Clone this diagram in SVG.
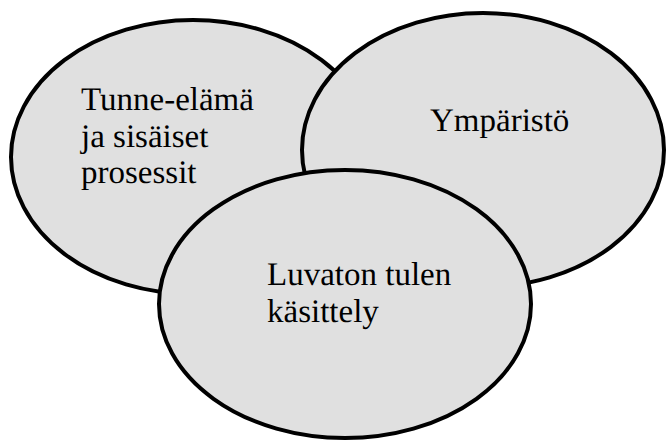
<svg xmlns="http://www.w3.org/2000/svg" width="666" height="440" viewBox="0 0 666 440">
<style>
.e{fill:#e0e0e0;stroke:#000;stroke-width:4}
.t{font-family:'Liberation Serif','Times New Roman',serif;font-size:33px;fill:#000;text-rendering:geometricPrecision}
</style>
<rect width="666" height="440" fill="#fff"/>
<g id="node-tunne">
<ellipse class="e" cx="193" cy="157" rx="182" ry="137"/>
<text class="t" x="81" y="110">Tunne-elämä</text>
<text class="t" x="81" y="147">ja sisäiset</text>
<text class="t" x="81" y="183">prosessit</text>
</g>
<g id="node-ymparisto">
<ellipse class="e" cx="483" cy="150" rx="181" ry="137"/>
<text class="t" x="430" y="131">Ympäristö</text>
</g>
<g id="node-luvaton">
<ellipse class="e" cx="345" cy="304" rx="186" ry="134"/>
<text class="t" x="267" y="285">Luvaton tulen</text>
<text class="t" x="267" y="322">käsittely</text>
</g>
<g id="connectors"></g>
</svg>
